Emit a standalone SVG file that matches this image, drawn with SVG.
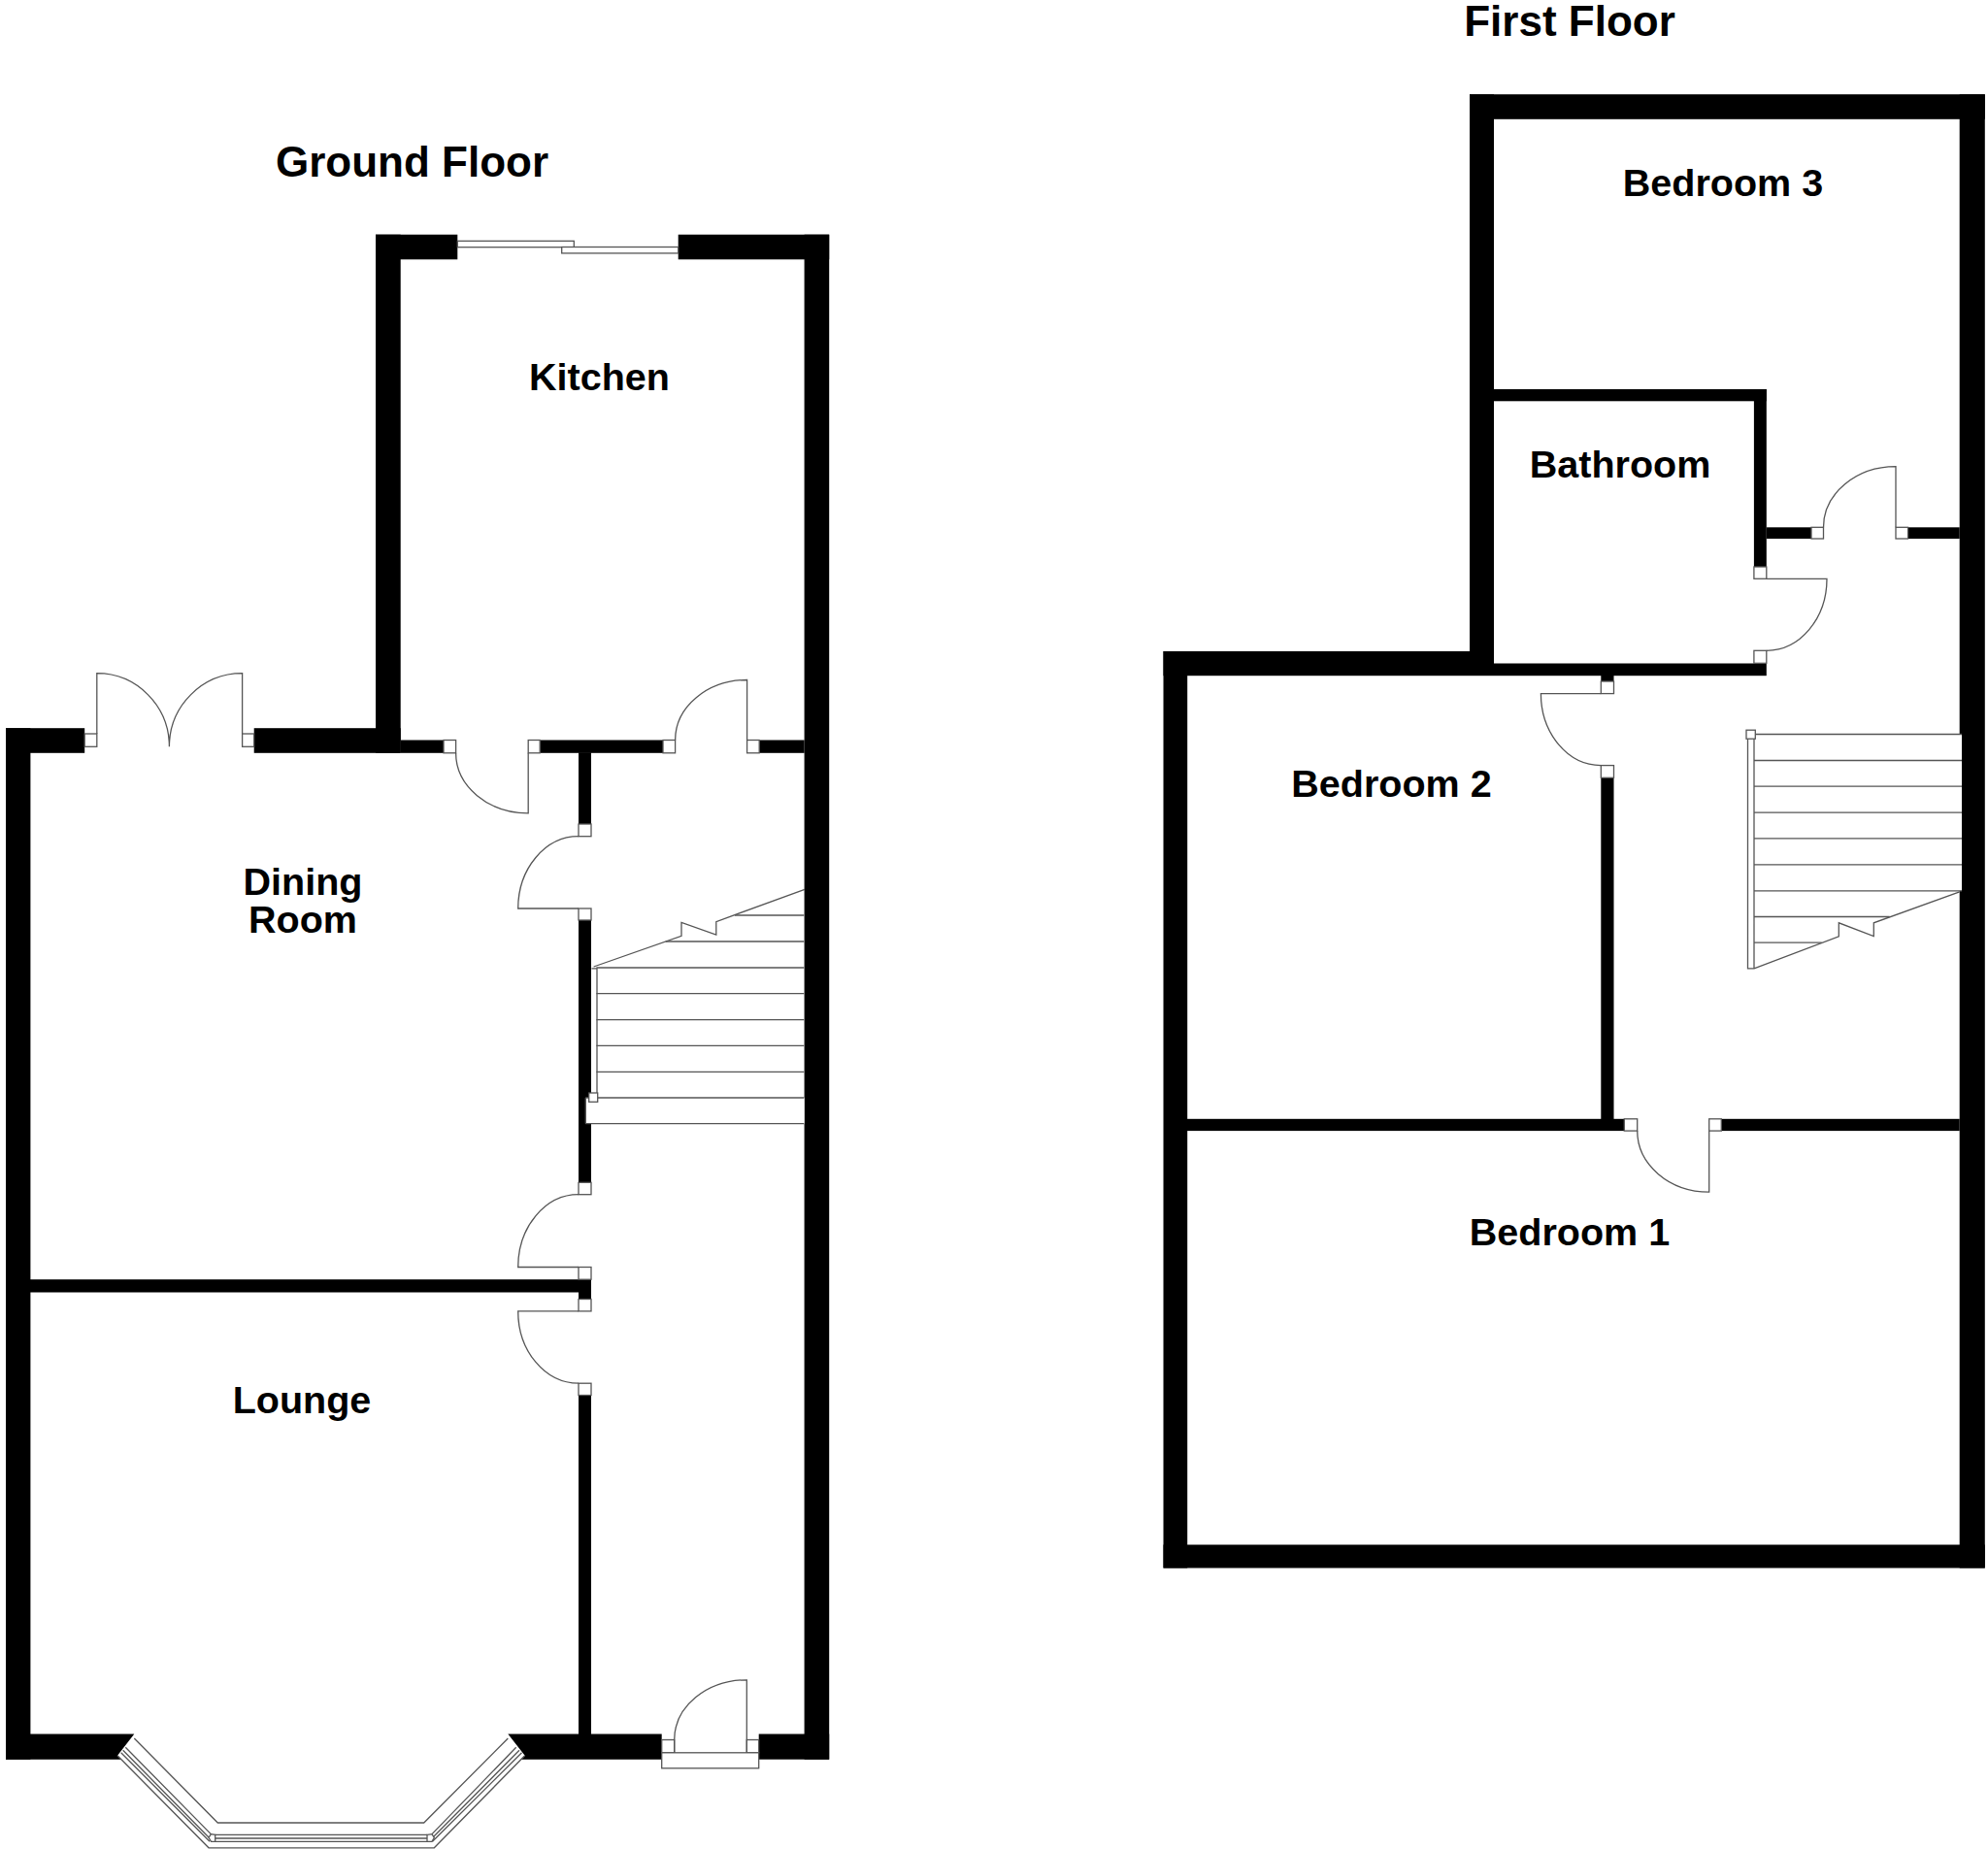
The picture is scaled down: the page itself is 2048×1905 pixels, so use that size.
<svg xmlns="http://www.w3.org/2000/svg" width="2048" height="1905" viewBox="0 0 2048 1905">
<style>
.w{fill:#000;stroke:none}
.l{fill:none;stroke:#555;stroke-width:1.3}
.b{fill:#fff;stroke:#555;stroke-width:1.3}
.t{font-family:"Liberation Sans",Arial,sans-serif;font-weight:bold;font-size:39.5px;fill:#000;text-anchor:middle}
.h{font-size:44px}
</style>
<rect width="2048" height="1905" fill="#fff"/>
<g id="ground-floor">
<g id="ground-walls">
<rect class="w" x="6" y="750.2" width="25.4" height="1062.5"/>
<rect class="w" x="6" y="750.2" width="81.2" height="25.6"/>
<rect class="w" x="261.7" y="750.2" width="151" height="25.6"/>
<rect class="w" x="387" y="241.7" width="25.7" height="534"/>
<rect class="w" x="387" y="241.7" width="84.3" height="25.6"/>
<rect class="w" x="698.7" y="241.7" width="155.5" height="25.6"/>
<rect class="w" x="828.6" y="241.7" width="25.6" height="1571"/>
<rect class="w" x="412.7" y="762.5" width="44.3" height="13.3"/>
<rect class="w" x="556.2" y="762.5" width="126.8" height="13.3"/>
<rect class="w" x="782.2" y="762.5" width="46.4" height="13.3"/>
<rect class="w" x="596" y="775.3" width="13" height="73.7"/>
<rect class="w" x="596" y="948" width="13" height="270.3"/>
<rect class="w" x="31" y="1318.2" width="578" height="13.3"/>
<rect class="w" x="596" y="1318" width="13" height="20.6"/>
<rect class="w" x="596" y="1437.5" width="13" height="350"/>
<polygon class="w" points="6,1786.5 138.3,1786.5 121,1808.7 125,1812.7 6,1812.7"/>
<polygon class="w" points="523.3,1786.5 681.7,1786.5 681.7,1812.7 537,1812.7 540.7,1808.7"/>
<rect class="w" x="781.7" y="1786.5" width="72.5" height="26.2"/>
</g>
<g id="ground-slider">
<rect class="b" x="471.3" y="248.3" width="120" height="6.4"/>
<rect class="b" x="578.7" y="254.5" width="120" height="6.4"/>
</g>
<g id="ground-french-doors">
<rect class="b" x="87.2" y="756" width="12.6" height="13.3"/>
<rect class="b" x="249.6" y="756" width="12.1" height="13.3"/>
<path class="l" d="M99.8 756V693.7A74.6 75.6 0 0 1 174.4 769.3A75.2 75.6 0 0 1 249.6 693.7V756"/>
</g>
<g id="ground-kitchen-door">
<rect class="b" x="457" y="762.5" width="12.6" height="13.3"/>
<rect class="b" x="544.2" y="762.5" width="12" height="13.3"/>
<path class="l" d="M469.6 775.8A74.6 62 0 0 0 544.2 837.8V775.8"/>
</g>
<g id="ground-hall-door">
<rect class="b" x="683" y="762.5" width="12.6" height="13.3"/>
<rect class="b" x="769.6" y="762.5" width="12.6" height="13.3"/>
<path class="l" d="M695.6 762.5A74 62 0 0 1 769.6 700.5V762.5"/>
</g>
<g id="ground-dining-door">
<rect class="b" x="596" y="849" width="13" height="12.7"/>
<rect class="b" x="596" y="936" width="13" height="12"/>
<path class="l" d="M596 861.7A62.3 74.3 0 0 0 533.7 936H596"/>
</g>
<g id="ground-dining-door-2">
<rect class="b" x="596" y="1218.3" width="13" height="12.4"/>
<rect class="b" x="596" y="1305.5" width="13" height="12.7"/>
<path class="l" d="M596 1230.7A62.3 74.8 0 0 0 533.7 1305.5H596"/>
</g>
<g id="ground-lounge-door">
<rect class="b" x="596" y="1338.5" width="13" height="12.4"/>
<rect class="b" x="596" y="1425.2" width="13" height="12.3"/>
<path class="l" d="M596 1350.9H533.7A62.3 74.3 0 0 0 596 1425.2"/>
</g>
<g id="ground-front-door">
<rect class="b" x="681.7" y="1792.5" width="13" height="13.3"/>
<rect class="b" x="769.3" y="1792.5" width="12.4" height="13.3"/>
<rect class="b" x="681.7" y="1805.8" width="100" height="16"/>
<path class="l" d="M694.7 1805.8V1792.5A74.6 61.7 0 0 1 769.3 1730.8V1805.8"/>
</g>
<g id="ground-stairs">
<rect x="603.3" y="1131" width="225.3" height="26.6" fill="#fff"/>
<path class="l" d="M757 943H828.3M685.7 970H828.3M614.4 997H828.3M614.4 1023.6H828.3M614.4 1050.6H828.3M614.4 1077.3H828.3M614.4 1104.3H828.3M603.3 1131H828.3M603.3 1157.6H828.3M603.3 1131V1157.6"/>
<path class="l" d="M609.5 997.8H615V1128M611.6 996L702 964.3V950.3L737.8 963V949.6L829 916.3"/>
<rect class="b" x="606.7" y="1126" width="9" height="9.3"/>
</g>
<g id="ground-bay-window">
<path class="l" d="M138.3 1791L224.3 1878H436.7L523.3 1791"/>
<path class="l" d="M121 1808.7L215 1903.8H447.3L540.7 1808.7"/>
<path class="l" d="M129.3 1800.3L217.3 1889.6M126.7 1803.3L215 1893M124.7 1805.7L216 1897.3"/>
<path class="l" d="M221.7 1890.3H440M221.7 1894H440M221.7 1897.3H440"/>
<path class="l" d="M531.7 1800.3L445 1889.6M535 1803.3L446 1893M537.5 1805.7L445.5 1897.3"/>
<polygon class="b" points="217.3,1889.6 221.7,1890.3 221.7,1897.3 217.5,1897.3 215,1893.3"/>
<polygon class="b" points="440,1890.3 445,1889.6 447.3,1893.3 445,1897.3 440,1897.3"/>
</g>
</g>
<g id="first-floor">
<g id="first-walls">
<rect class="w" x="1514" y="97.2" width="25" height="586"/>
<rect class="w" x="1514" y="97.2" width="530.8" height="25.6"/>
<rect class="w" x="2018.7" y="97.2" width="26.1" height="1518.3"/>
<rect class="w" x="1198.5" y="671" width="24.7" height="944.5"/>
<rect class="w" x="1198.5" y="671" width="340.5" height="25.2"/>
<rect class="w" x="1539" y="683.5" width="280.8" height="12.7"/>
<rect class="w" x="1198.5" y="1591.5" width="846.3" height="24"/>
<rect class="w" x="1539" y="401" width="280.8" height="12.3"/>
<rect class="w" x="1806.9" y="401" width="12.9" height="183"/>
<rect class="w" x="1819.8" y="543.3" width="46.2" height="11.7"/>
<rect class="w" x="1965.6" y="543.3" width="53.1" height="11.7"/>
<rect class="w" x="1649.3" y="696" width="13.2" height="6"/>
<rect class="w" x="1649.3" y="801.3" width="13.2" height="363"/>
<rect class="w" x="1223" y="1152.8" width="450.3" height="12.3"/>
<rect class="w" x="1773.3" y="1152.8" width="245.4" height="12.3"/>
</g>
<g id="first-bedroom3-door">
<rect class="b" x="1866" y="543.3" width="12.5" height="11.7"/>
<rect class="b" x="1953" y="543.3" width="12.6" height="11.7"/>
<path class="l" d="M1878.5 543.3A74.5 62.6 0 0 1 1953 480.7V543.3"/>
</g>
<g id="first-bathroom-door">
<rect class="b" x="1806.9" y="584" width="12.9" height="12.3"/>
<rect class="b" x="1806.9" y="670.3" width="12.9" height="13"/>
<path class="l" d="M1819.8 596.3H1882A62.2 74 0 0 1 1819.8 670.3"/>
</g>
<g id="first-bedroom2-door">
<rect class="b" x="1649.3" y="702" width="13.2" height="12.6"/>
<rect class="b" x="1649.3" y="788.6" width="13.2" height="12.7"/>
<path class="l" d="M1649.3 714.6H1587.4A61.9 74 0 0 0 1649.3 788.6"/>
</g>
<g id="first-bedroom1-door">
<rect class="b" x="1673.3" y="1152.8" width="13.4" height="12.3"/>
<rect class="b" x="1760.7" y="1152.8" width="12.6" height="12.3"/>
<path class="l" d="M1686.7 1165.1A74 63 0 0 0 1760.7 1228.1V1165.1"/>
</g>
<g id="first-stairs">
<rect x="1807" y="756.5" width="214" height="161.3" fill="#fff"/>
<path class="l" d="M1807 756.5H2021M1807 783.5H2021M1807 810.2H2021M1807 837.2H2021M1807 863.8H2021M1807 890.8H2021M1807 917.8H2021M1807 944.5H1946.7M1807 971.2H1876.7"/>
<path class="l" d="M1800.5 760V997.8H1807V760M1807 997.8L1894.3 964.8V950.8L1930.3 964.5V950.8L2018.7 918.8"/>
<rect class="b" x="1799" y="752.2" width="9.3" height="9"/>
</g>
</g>
<g id="labels">
<text class="t h" x="424.5" y="181.5">Ground Floor</text>
<text class="t h" x="1617" y="36.5">First Floor</text>
<text class="t" x="617.5" y="402">Kitchen</text>
<text class="t" x="312" y="922">Dining</text>
<text class="t" x="312" y="961">Room</text>
<text class="t" x="311" y="1456">Lounge</text>
<text class="t" x="1775" y="202">Bedroom 3</text>
<text class="t" x="1669" y="492">Bathroom</text>
<text class="t" x="1433.5" y="821">Bedroom 2</text>
<text class="t" x="1617" y="1282.5">Bedroom 1</text>
</g>
</svg>
